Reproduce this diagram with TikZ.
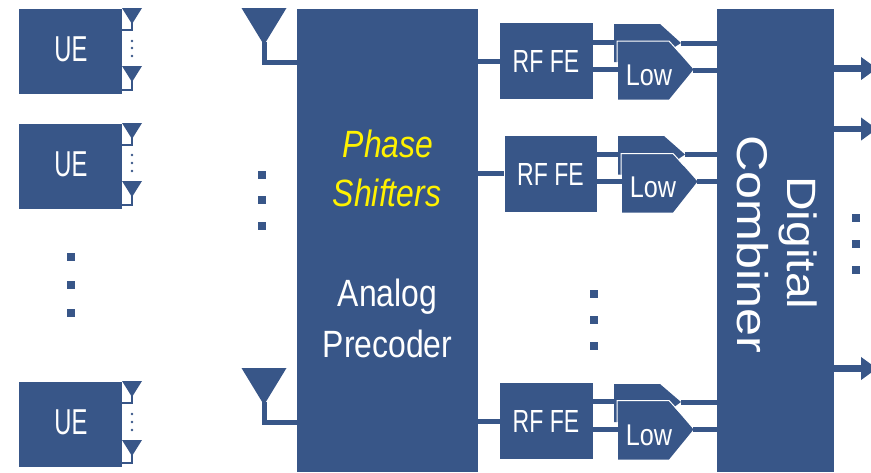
\documentclass[tikz,border=0pt]{standalone}
\usepackage{fontspec}
\usetikzlibrary{arrows.meta}
\setmainfont{Liberation Sans}
\newfontfamily\narrowfont[FakeStretch=0.72]{Liberation Sans}
\newfontfamily\uefont[FakeStretch=0.66]{Liberation Sans}
\newfontfamily\midfont[FakeStretch=0.84]{Liberation Sans}
\newfontfamily\widefont[FakeStretch=1.17]{Liberation Sans}
\definecolor{bloque}{HTML}{385688}
\tikzset{
  block/.style={fill=bloque, inner sep=0pt},
  wire/.style={draw=bloque, line width=5pt},
  thinwire/.style={draw=bloque, line width=2.5pt},
  outwire/.style={draw=bloque, line width=6.5pt, -{Triangle[length=16pt,width=22pt]}},
  dotmark/.style={fill=bloque, inner sep=0pt, minimum size=8pt},
  smalldot/.style={circle, fill=bloque, inner sep=0pt, minimum size=2.6pt},
  filteredge/.style={draw=white, line width=1pt},
  uelabel/.style={text=white, anchor=base, inner sep=0pt, font=\uefont\fontsize{36}{36}\selectfont},
  rflabel/.style={text=white, anchor=base, inner sep=0pt, font=\narrowfont\fontsize{32}{32}\selectfont},
  lowlabel/.style={text=white, anchor=base, inner sep=0pt, font=\midfont\fontsize{30}{30}\selectfont},
  midlabel/.style={text=white, anchor=base, inner sep=0pt, font=\midfont\fontsize{38}{38}\selectfont},
  philabel/.style={text=yellow, anchor=base, inner sep=0pt, font=\midfont\itshape\fontsize{38}{38}\selectfont},
  sidelabel/.style={text=white, anchor=base, inner sep=0pt, rotate=-90, font=\widefont\fontsize{41}{41}\selectfont},
}
\begin{document}
\begin{tikzpicture}[x=1pt, y=-1pt]
    \useasboundingbox (0,0) rectangle (871,472);
    \clip (0,0) rectangle (871,472);

    % Bloques UE
    \node[block, minimum width=103pt, minimum height=85pt] (ue1) at (70.5,51.5) {};
    \node[block, minimum width=103pt, minimum height=85pt] (ue2) at (70.5,166.5) {};
    \node[block, minimum width=103pt, minimum height=85pt] (ue3) at (70.5,424.5) {};
    \node[uelabel] (ue1text) at (71,61) {UE};
    \node[uelabel] (ue2text) at (71,176) {UE};
    \node[uelabel] (ue3text) at (71,434) {UE};

    % Antenas de los UE
    \fill[bloque] (132,24) -- ++(-10,-16) -- ++(20,0) -- cycle;
    \fill[bloque] (132,82) -- ++(-10,-16) -- ++(20,0) -- cycle;
    \fill[bloque] (132,139) -- ++(-10,-16) -- ++(20,0) -- cycle;
    \fill[bloque] (132,197) -- ++(-10,-16) -- ++(20,0) -- cycle;
    \fill[bloque] (132,397) -- ++(-10,-16) -- ++(20,0) -- cycle;
    \fill[bloque] (132,456) -- ++(-10,-16) -- ++(20,0) -- cycle;
    \coordinate (ua1) at (132,22);
    \coordinate (ua2) at (132,80);
    \coordinate (ua3) at (132,137);
    \coordinate (ua4) at (132,195);
    \coordinate (ua5) at (132,395);
    \coordinate (ua6) at (132,454);
    \draw[thinwire] (ua1) |- (ue1.east |- 0,30);
    \draw[thinwire] (ua2) |- (ue1.east |- 0,90);
    \draw[thinwire] (ua3) |- (ue2.east |- 0,145);
    \draw[thinwire] (ua4) |- (ue2.east |- 0,205);
    \draw[thinwire] (ua5) |- (ue3.east |- 0,403);
    \draw[thinwire] (ua6) |- (ue3.east |- 0,463);

    % Puntos pequenos
    \node[smalldot] (d1) at (132,41) {};
    \node[smalldot] (d2) at (132,48) {};
    \node[smalldot] (d3) at (132,56) {};
    \node[smalldot] (d4) at (132,155) {};
    \node[smalldot] (d5) at (132,163) {};
    \node[smalldot] (d6) at (132,171) {};
    \node[smalldot] (d7) at (132,414) {};
    \node[smalldot] (d8) at (132,422) {};
    \node[smalldot] (d9) at (132,430) {};

    % Puntos grandes
    \node[dotmark] (m1) at (71,257) {};
    \node[dotmark] (m2) at (71,285) {};
    \node[dotmark] (m3) at (71,313) {};
    \node[dotmark] (m4) at (261.5,175) {};
    \node[dotmark] (m5) at (261.5,200) {};
    \node[dotmark] (m6) at (261.5,226) {};
    \node[dotmark] (m7) at (594,294) {};
    \node[dotmark] (m8) at (594,320) {};
    \node[dotmark] (m9) at (594,346) {};
    \node[dotmark] (m10) at (856,218) {};
    \node[dotmark] (m11) at (856,244) {};
    \node[dotmark] (m12) at (856,270) {};

    % Precodificador analogico
    \node[block, minimum width=181pt, minimum height=463pt] (pre) at (387.5,240.5) {};
    \node[philabel] (phase) at (388,157) {Phase};
    \node[philabel] (shifters) at (387,206) {Shifters};
    \node[midlabel] (analog) at (387.5,306) {Analog};
    \node[midlabel] (precoder) at (387.5,357) {Precoder};

    % Antenas grandes
    \fill[bloque] (264,45) -- ++(-22.5,-37) -- ++(45,0) -- cycle;
    \fill[bloque] (264,405) -- ++(-22.5,-37) -- ++(45,0) -- cycle;
    \coordinate (ba1) at (264,42);
    \coordinate (ba2) at (264,402);
    \draw[wire] (ba1) |- (pre.west |- 0,62);
    \draw[wire] (ba2) |- (pre.west |- 0,422);

    % Combinador digital
    \node[block, minimum width=117pt, minimum height=463pt] (comb) at (775.5,240.5) {};
    \node[sidelabel, font=\widefont\fontsize{43}{43}\selectfont] (combiner) at (737,244.5) {Combiner};
    \node[sidelabel] (digital) at (787,243) {Digital};

    % RF FE
    \node[block, minimum width=92.5pt, minimum height=76pt] (rf1) at (546.25,61) {};
    \node[block, minimum width=92.5pt, minimum height=76.5pt] (rf2) at (550.75,173.75) {};
    \node[block, minimum width=92.5pt, minimum height=76pt] (rf3) at (546.25,421) {};
    \node[rflabel] (rf1text) at (546,72.5) {RF FE};
    \node[rflabel] (rf2text) at (550.5,185) {RF FE};
    \node[rflabel] (rf3text) at (546,432.5) {RF FE};
    \draw[wire] (pre.east |- rf1.west) -- (rf1.west);
    \draw[wire] (pre.east |- rf2.west) -- (rf2.west);
    \draw[wire] (pre.east |- rf3.west) -- (rf3.west);

    % Filtros de atras
    \fill[bloque] (614,24) -- (660,24) -- (681,43) -- (670,50) -- (617,62) -- (614,62) -- cycle;
    \fill[bloque] (618,136) -- (664,136) -- (685,154.5) -- (674,162) -- (621,174.5) -- (618,174.5) -- cycle;
    \fill[bloque] (614,384) -- (660,384) -- (681,402) -- (670,410) -- (617,422) -- (614,422) -- cycle;

    % Filtros de delante
    \fill[bloque] (618,99.5) -- (618,41.5) -- (669,41.5) -- (693.5,69.5) -- (669,99.5) -- cycle;
    \fill[bloque] (622,212.5) -- (622,154) -- (673,154) -- (697.5,181.5) -- (673,212.5) -- cycle;
    \fill[bloque] (618,459.5) -- (618,401) -- (669,401) -- (693.5,429.5) -- (669,459.5) -- cycle;
    \draw[filteredge] (617,62) -- (617,41) -- (669,41) -- (680,53);
    \draw[filteredge] (621,174.5) -- (621,153.5) -- (673,153.5) -- (684,165.5);
    \draw[filteredge] (617,422) -- (617,400.5) -- (669,400.5) -- (680,412.5);
    \coordinate (a1) at (681,43);
    \coordinate (b1) at (618,69.5);
    \coordinate (c1) at (693,70);
    \coordinate (e1) at (614,42);
    \coordinate (a2) at (685,154.5);
    \coordinate (b2) at (622,181.5);
    \coordinate (c2) at (697,181.5);
    \coordinate (e2) at (618,154.5);
    \coordinate (a3) at (681,402.5);
    \coordinate (b3) at (618,429.5);
    \coordinate (c3) at (693,429.5);
    \coordinate (e3) at (614,401.5);
    \node[lowlabel] (low1) at (649,85) {Low};
    \node[lowlabel] (low2) at (653,197) {Low};
    \node[lowlabel] (low3) at (649,445) {Low};

    % Cables entre RF FE, filtros y combinador
    \draw[wire] (rf1.east |- e1) -- (e1);
    \draw[wire] (rf1.east |- b1) -- (b1);
    \draw[wire] (a1) -- (comb.west |- a1);
    \draw[wire] (c1) -- (comb.west |- c1);
    \draw[wire] (rf2.east |- e2) -- (e2);
    \draw[wire] (rf2.east |- b2) -- (b2);
    \draw[wire] (a2) -- (comb.west |- a2);
    \draw[wire] (c2) -- (comb.west |- c2);
    \draw[wire] (rf3.east |- e3) -- (e3);
    \draw[wire] (rf3.east |- b3) -- (b3);
    \draw[wire] (a3) -- (comb.west |- a3);
    \draw[wire] (c3) -- (comb.west |- c3);

    % Salidas
    \coordinate (out1) at (877,68.5);
    \coordinate (out2) at (877,129);
    \coordinate (out3) at (877,368.5);
    \draw[outwire] (comb.east |- out1) -- (out1);
    \draw[outwire] (comb.east |- out2) -- (out2);
    \draw[outwire] (comb.east |- out3) -- (out3);
\end{tikzpicture}
\end{document}
